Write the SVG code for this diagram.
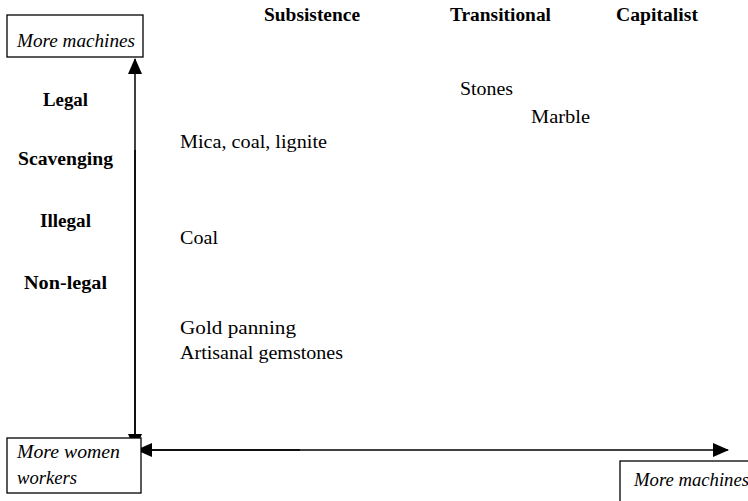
<svg xmlns="http://www.w3.org/2000/svg" width="748" height="501" viewBox="0 0 748 501">
<style>
text{font-family:"Liberation Serif","Times New Roman",serif;font-size:18px;fill:#000}
.b{font-weight:bold}
.i{font-style:italic}
.box{fill:#fff;stroke:#000;stroke-width:1.3}
.ax{stroke:#000;stroke-width:1.5;fill:none}
</style>
<defs>
<marker id="ah2" markerWidth="16" markerHeight="16" refX="15" refY="8" orient="auto" markerUnits="userSpaceOnUse" viewBox="0 0 16 16">
<path d="M0,1 L16,8 L0,15 z" fill="#000"/>
</marker>
</defs>
<g id="connectors">
<line class="ax" x1="135" y1="440" x2="135" y2="59" marker-end="url(#ah2)"/>
<line class="ax" x1="135" y1="150" x2="135" y2="449" marker-end="url(#ah2)"/>
<line class="ax" x1="300" y1="450" x2="137" y2="450" marker-end="url(#ah2)"/>
<line class="ax" x1="150" y1="450" x2="728" y2="450" marker-end="url(#ah2)"/>
</g>
<g id="box-top">
<rect class="box" x="7" y="15" width="136" height="42"/>
<text class="i" x="17" y="47" textLength="118" lengthAdjust="spacingAndGlyphs">More machines</text>
</g>
<g id="box-women">
<rect class="box" x="7" y="438" width="134" height="55"/>
<text class="i" x="17" y="458" textLength="103" lengthAdjust="spacingAndGlyphs">More women</text>
<text class="i" x="17" y="484" textLength="60" lengthAdjust="spacingAndGlyphs">workers</text>
</g>
<g id="box-right">
<rect class="box" x="620" y="461" width="140" height="50"/>
<text class="i" x="634" y="486" textLength="115" lengthAdjust="spacingAndGlyphs">More machines</text>
</g>
<g id="headers">
<text class="b" x="264" y="21" textLength="96" lengthAdjust="spacingAndGlyphs">Subsistence</text>
<text class="b" x="450" y="21" textLength="101" lengthAdjust="spacingAndGlyphs">Transitional</text>
<text class="b" x="616" y="21" textLength="82" lengthAdjust="spacingAndGlyphs">Capitalist</text>
</g>
<g id="rows">
<text class="b" x="43" y="106" textLength="45" lengthAdjust="spacingAndGlyphs">Legal</text>
<text class="b" x="18" y="165" textLength="95" lengthAdjust="spacingAndGlyphs">Scavenging</text>
<text class="b" x="40" y="227" textLength="51" lengthAdjust="spacingAndGlyphs">Illegal</text>
<text class="b" x="24" y="289" textLength="83" lengthAdjust="spacingAndGlyphs">Non-legal</text>
</g>
<g id="items">
<text x="460" y="95" textLength="53" lengthAdjust="spacingAndGlyphs">Stones</text>
<text x="531" y="123" textLength="59" lengthAdjust="spacingAndGlyphs">Marble</text>
<text x="180" y="148" textLength="147" lengthAdjust="spacingAndGlyphs">Mica, coal, lignite</text>
<text x="180" y="244" textLength="38" lengthAdjust="spacingAndGlyphs">Coal</text>
<text x="180" y="334" textLength="116" lengthAdjust="spacingAndGlyphs">Gold panning</text>
<text x="180" y="359" textLength="163" lengthAdjust="spacingAndGlyphs">Artisanal gemstones</text>
</g>
</svg>
